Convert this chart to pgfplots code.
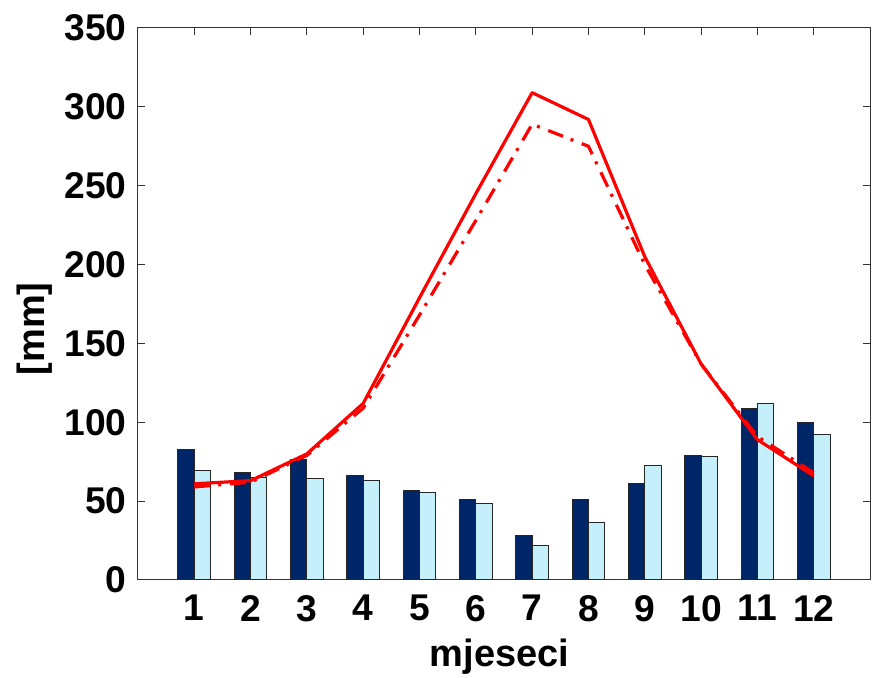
\documentclass[border=0pt]{standalone}
\usepackage{fontspec}
\setmainfont{Liberation Sans}
\usepackage{pgfplots}
\pgfplotsset{compat=1.18}
\usetikzlibrary{calc}
\definecolor{barDark}{RGB}{0,38,104}
\definecolor{barLight}{RGB}{198,239,252}

\begin{document}
\begin{tikzpicture}
\begin{axis}[
  name=ax,
  scale only axis,
  width=366pt, height=276pt,
  xmin=0, xmax=13, ymin=0, ymax=350,
  xtick={1,...,12},
  ytick={0,50,...,350},
  tick align=inside,
  major tick length=3.5pt,
  axis line style={black!80, line width=0.5pt},
  every tick/.style={black!80, line width=0.5pt},
  /pgf/number format/assume math mode=true,
  ticklabel style={font=\fontsize{18.6}{20}\selectfont\bfseries, inner sep=0pt},
  xticklabel style={anchor=north, yshift=-7.5pt},
  yticklabel style={anchor=east, xshift=-5.5pt},
  xlabel={mjeseci}, ylabel={[mm]},
  label style={font=\fontsize{19}{21}\selectfont\bfseries},
  xlabel style={at={(axis description cs:0.494,-0.157)}, anchor=base},
  ylabel style={at={(axis description cs:-0.141,0.455)}, anchor=center},
  clip=false,
]
% bars, series 1 (dark)
\addplot[ybar, bar width=0.29, bar shift=-0.145, fill=barDark, draw=black!85, line width=0.5pt]
  coordinates {(1,82.6)(2,68.4)(3,76.2)(4,66.3)(5,56.5)(6,51.0)(7,28.2)(8,51.0)(9,61.0)(10,79.2)(11,108.6)(12,99.9)};
% bars, series 2 (light)
\addplot[ybar, bar width=0.29, bar shift=0.145, fill=barLight, draw=black!85, line width=0.5pt]
  coordinates {(1,69.7)(2,65.0)(3,64.2)(4,63.1)(5,55.3)(6,48.7)(7,21.6)(8,36.6)(9,72.6)(10,78.1)(11,112.0)(12,92.5)};
% solid line
\addplot[red, line width=1.6pt, line join=round]
  coordinates {(1,61)(2,63)(3,80)(4,112)(5,179)(6,245)(7,309)(8,292)(9,205)(10,137)(11,89)(12,66)};
% dash-dot line
\addplot[red, line width=1.6pt, dash pattern=on 8pt off 4pt on 1.5pt off 4.5pt]
  coordinates {(1,59)(2,62)(3,79)(4,109)(5,168)(6,228)(7,289)(8,275)(9,200)(10,137)(11,91)(12,68)};
\end{axis}
\pgfresetboundingbox
\path ($(ax.south west)+(-69pt,-49pt)$) rectangle ++(436pt,339pt);
\end{tikzpicture}
\end{document}
